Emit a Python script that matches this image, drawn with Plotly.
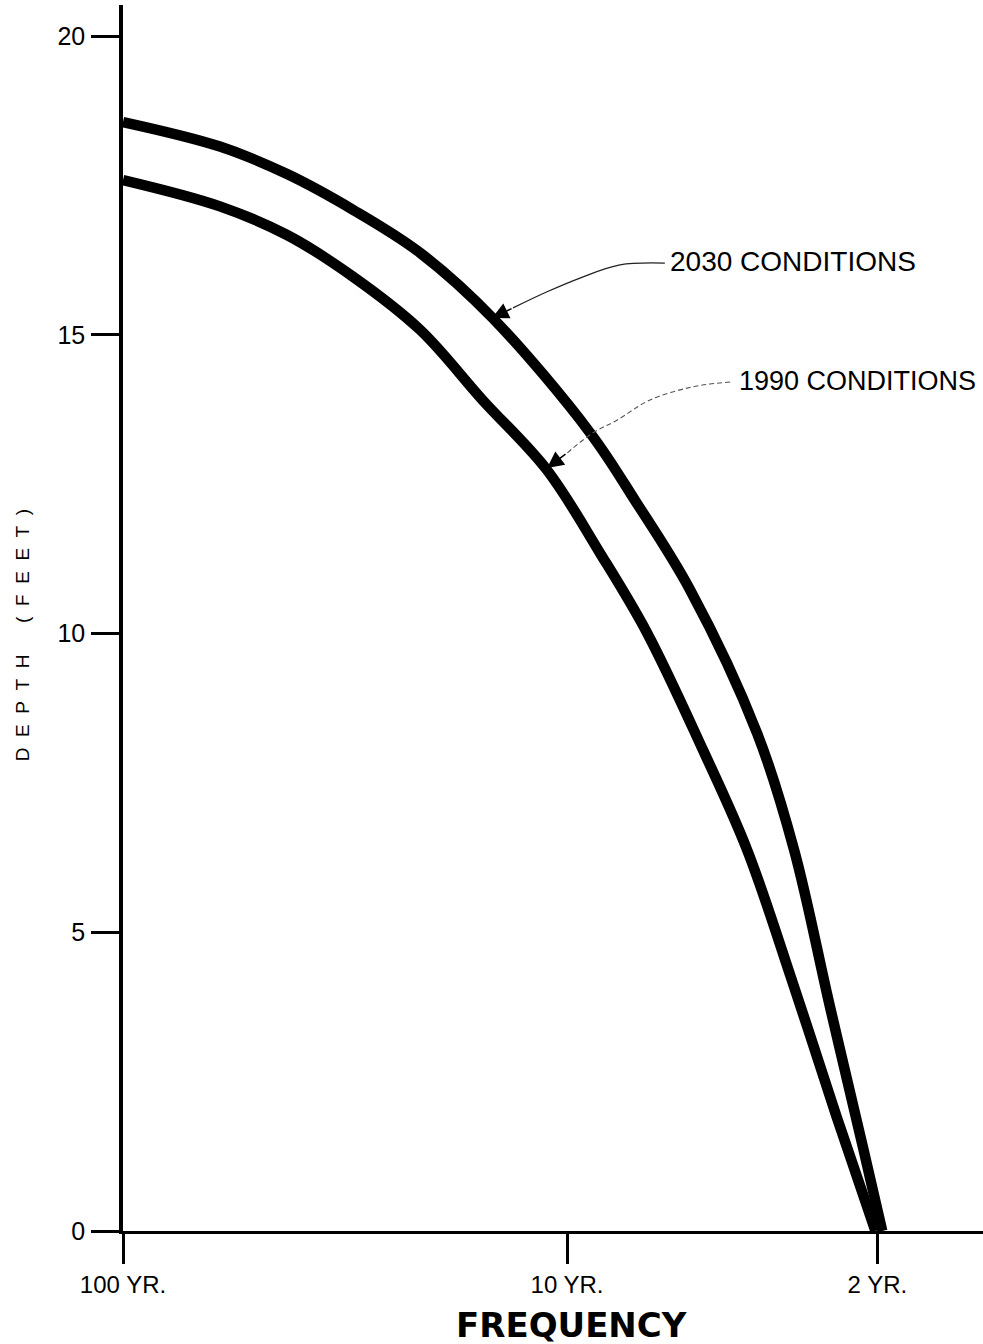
import math
import plotly.graph_objects as go

# Flood depth vs. recurrence interval (years), two planning horizons
period_2030 = [100, 60.5, 42.7, 30.3, 21.4, 14.7, 8.87, 7.03, 5.28, 3.73, 3.08, 2.56, 2.15, 1.95]
depth_2030 = [18.56, 18.15, 17.69, 17.09, 16.37, 15.28, 13.36, 12.23, 10.73, 8.33, 6.38, 3.77, 1.37, 0.0]

period_1990 = [100, 60.5, 42.7, 30.3, 21.4, 15.5, 11.1, 8.43, 6.60, 4.94, 3.93, 3.10, 2.47, 2.02]
depth_1990 = [17.59, 17.15, 16.67, 15.97, 15.08, 13.91, 12.74, 11.35, 10.01, 8.05, 6.38, 4.15, 1.91, 0.0]

# Axis ticks
x_tickvals = [100, 10, 2]
x_ticktext = ["100 YR.", "10 YR.", "2 YR."]
y_tickvals = [0, 5, 10, 15, 20]

# Callout leaders (period, depth) and their arrow tips
lead_2030_period = [6.02, 7.60, 9.35, 11.09, 13.23]
lead_2030_depth = [16.20, 16.17, 15.95, 15.72, 15.45]
tip_2030 = (14.75, 15.28)
label_2030 = (5.92, 16.23)

lead_1990_period = [4.29, 5.20, 6.50, 7.72, 8.74, 10.0]
lead_1990_depth = [14.21, 14.13, 13.91, 13.57, 13.36, 13.02]
tip_1990 = (11.09, 12.77)
label_1990 = (4.14, 14.23)

FONT = "Liberation Sans, Arial, Helvetica, sans-serif"
lg = math.log10

fig = go.Figure()

for px, dy in [(period_2030, depth_2030), (period_1990, depth_1990)]:
    fig.add_trace(go.Scatter(
        x=px, y=dy, mode="lines",
        line=dict(color="black", width=10.5, shape="spline", smoothing=1.0),
        hoverinfo="skip", showlegend=False,
    ))

fig.add_trace(go.Scatter(
    x=lead_2030_period, y=lead_2030_depth, mode="lines",
    line=dict(color="#222", width=1.3, shape="spline"),
    hoverinfo="skip", showlegend=False,
))
fig.add_trace(go.Scatter(
    x=lead_1990_period, y=lead_1990_depth, mode="lines",
    line=dict(color="#555", width=1.1, shape="spline", dash="5px,3px"),
    hoverinfo="skip", showlegend=False,
))

arrow_style = dict(xref="x", yref="y", axref="x", ayref="y", text="", showarrow=True,
                   arrowhead=2, arrowsize=2.2, arrowwidth=1.5, arrowcolor="black")

annotations = [
    dict(x=lg(tip_2030[0]), y=tip_2030[1], ax=lg(lead_2030_period[-1]), ay=lead_2030_depth[-1], **arrow_style),
    dict(x=lg(tip_1990[0]), y=tip_1990[1], ax=lg(lead_1990_period[-1]), ay=lead_1990_depth[-1], **arrow_style),
    dict(x=lg(label_2030[0]), y=label_2030[1], xref="x", yref="y", text="2030 CONDITIONS",
         showarrow=False, xanchor="left", yanchor="middle",
         font=dict(family=FONT, size=28, color="black")),
    dict(x=lg(label_1990[0]), y=label_1990[1], xref="x", yref="y", text="1990 CONDITIONS",
         showarrow=False, xanchor="left", yanchor="middle",
         font=dict(family=FONT, size=27, color="black")),
    dict(x=0.522, y=-0.077, xref="paper", yref="paper", text="<b>FREQUENCY</b>",
         showarrow=False, xanchor="center", yanchor="middle",
         font=dict(family="DejaVu Sans, sans-serif", size=34, color="black")),
    dict(x=-0.1174, y=0.486, xref="paper", yref="paper",
         text="D\u00a0\u00a0E\u00a0\u00a0P\u00a0\u00a0T\u00a0\u00a0H\u00a0\u00a0\u00a0\u00a0\u00a0\u00a0(\u00a0\u00a0F\u00a0\u00a0E\u00a0\u00a0E\u00a0\u00a0T\u00a0\u00a0)",
         textangle=-90, showarrow=False, xanchor="center", yanchor="middle",
         font=dict(family=FONT, size=19, color="black")),
]

fig.update_layout(
    width=983, height=1344,
    margin=dict(l=123, r=0, t=5, b=113),
    paper_bgcolor="white", plot_bgcolor="white",
    showlegend=False,
    annotations=annotations,
    xaxis=dict(
        type="log", range=[2, 2 - 860 / 444],
        tickvals=x_tickvals, ticktext=x_ticktext,
        ticks="outside", ticklen=30, tickwidth=2.5, tickcolor="black",
        ticklabelstandoff=0,
        showline=True, linecolor="black", linewidth=3,
        showgrid=False, zeroline=False,
        tickfont=dict(family=FONT, size=24, color="black"),
    ),
    yaxis=dict(
        range=[0, 20.52],
        tickvals=y_tickvals,
        ticks="outside", ticklen=28, tickwidth=2.5, tickcolor="black",
        ticklabelstandoff=1,
        showline=True, linecolor="black", linewidth=3.5,
        showgrid=False, zeroline=False,
        tickfont=dict(family=FONT, size=25, color="black"),
    ),
)

fig.write_html("out.html")
